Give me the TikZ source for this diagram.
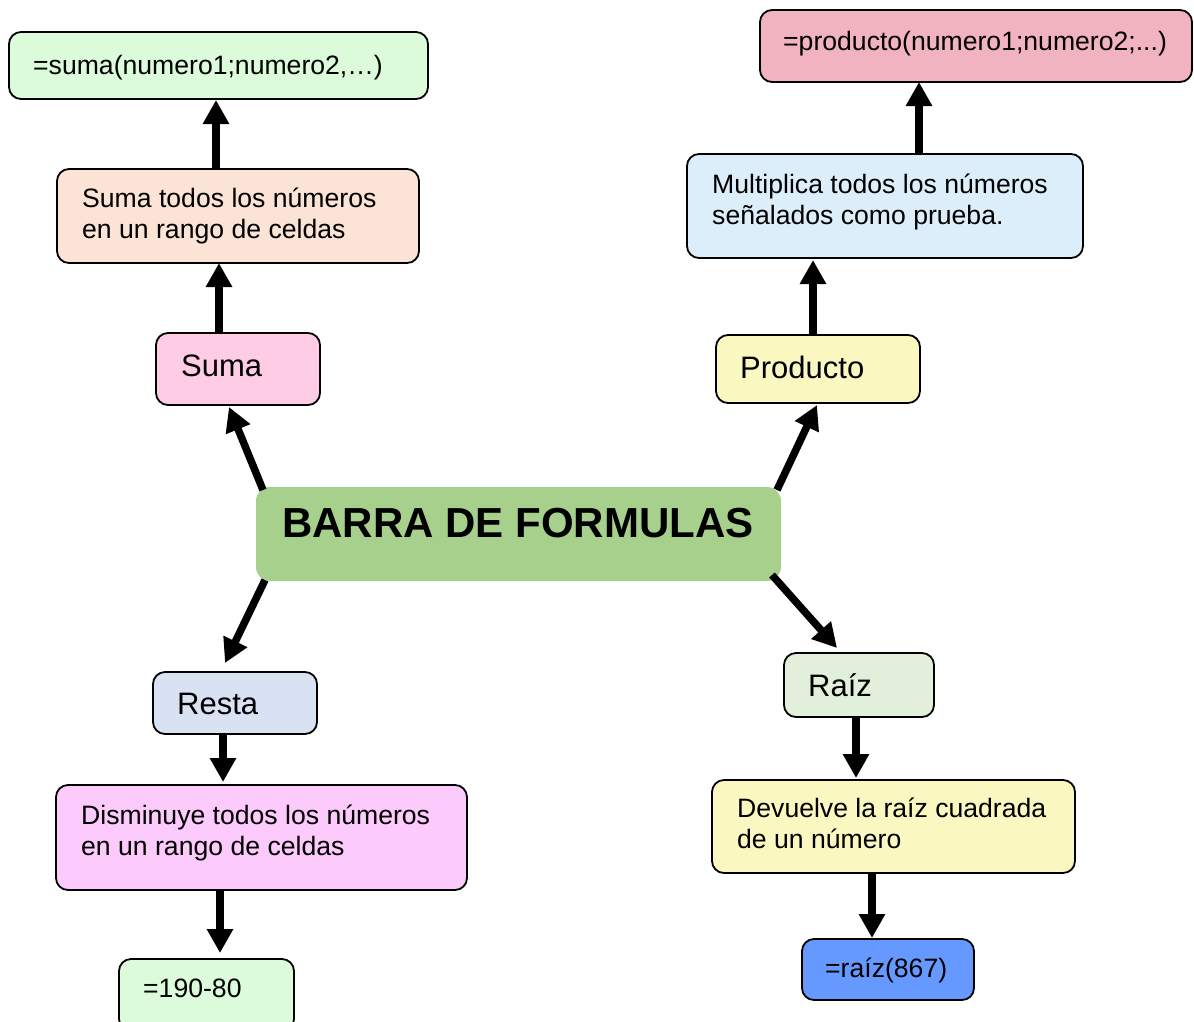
\documentclass[tikz,border=0pt]{standalone}
\usepackage{fontspec}
\setmainfont{Liberation Sans}
\usetikzlibrary{arrows.meta}
\definecolor{cSumF}{HTML}{DBFBDB}
\definecolor{cSumD}{HTML}{FBE3D6}
\definecolor{cSuma}{HTML}{FFCCE5}
\definecolor{cCent}{HTML}{A8D08D}
\definecolor{cResta}{HTML}{D9E2F3}
\definecolor{cDism}{HTML}{FCCBFC}
\definecolor{cProdF}{HTML}{F2B3C1}
\definecolor{cProdD}{HTML}{DDEEFB}
\definecolor{cProd}{HTML}{FAF8C0}
\definecolor{cRaiz}{HTML}{E2EFDA}
\definecolor{cRaizF}{HTML}{6699FF}
\begin{document}
\begin{tikzpicture}[x=1pt,y=-1pt,
  box/.style={draw=black, line width=1.8pt, rounded corners=12pt, anchor=north west, inner sep=0pt, outer sep=0pt},
  txt/.style={anchor=base west, inner sep=0pt, align=left, font=\fontsize{26.6}{30.5}\selectfont},
  lbl/.style={anchor=base west, inner sep=0pt, font=\fontsize{31}{36}\selectfont},
  arr/.style={line width=7.5pt, -{Triangle[width=25pt,length=24pt]}}]
\useasboundingbox (0,0) rectangle (1194,1021);
% boxes
\node[box, fill=cSumF, minimum width=419pt, minimum height=67pt] (sf) at (9,32) {};
\node[box, fill=cSumD, minimum width=362pt, minimum height=94pt] (sd) at (57,169) {};
\node[box, fill=cSuma, minimum width=164pt, minimum height=72pt] (su) at (156,333) {};
\node[box, draw=none, fill=cCent, rounded corners=14pt, minimum width=525pt, minimum height=94pt] (ce) at (256,487) {};
\node[box, fill=cResta, minimum width=164pt, minimum height=62pt] (re) at (153,672) {};
\node[box, fill=cDism, minimum width=411pt, minimum height=105pt] (di) at (56,785) {};
\node[box, fill=cSumF, minimum width=175pt, minimum height=72pt] (rf) at (119,959) {};
\node[box, fill=cProdF, minimum width=432pt, minimum height=72pt] (pf) at (760,10) {};
\node[box, fill=cProdD, minimum width=396pt, minimum height=104pt] (pd) at (687,154) {};
\node[box, fill=cProd, minimum width=204pt, minimum height=68pt] (pr) at (716,335) {};
\node[box, fill=cRaiz, minimum width=150pt, minimum height=64pt] (ra) at (784,653) {};
\node[box, fill=cProd, minimum width=363pt, minimum height=93pt] (de) at (712,780) {};
\node[box, fill=cRaizF, minimum width=172pt, minimum height=61pt] (qf) at (802,939) {};
% texts
\node[txt] (tsf) at (33,74) {=suma(numero1;numero2,…)};
\node[txt] (tsd) at (82,238) {Suma todos los números\\en un rango de celdas};
\node[lbl] (tsu) at (181,376) {Suma};
\node[anchor=base west, inner sep=0pt, font=\fontsize{42}{48}\selectfont\bfseries] (tce) at (282,537) {BARRA DE FORMULAS};
\node[lbl] (tre) at (177,714) {Resta};
\node[txt] (tdi) at (81,855) {Disminuye todos los números\\en un rango de celdas};
\node[txt] (trf) at (143,997) {=190-80};
\node[txt] (tpf) at (783,50) {=producto(numero1;numero2;...)};
\node[txt] (tpd) at (712,224) {Multiplica todos los números\\señalados como prueba.};
\node[lbl] (tpr) at (740,378) {Producto};
\node[lbl] (tra) at (808,696) {Raíz};
\node[txt] (tde) at (737,848) {Devuelve la raíz cuadrada\\de un número};
\node[txt] (tqf) at (825,977) {=raíz(867)};
% arrows
\draw[arr] ([xshift=7pt,yshift=-3pt]ce.north west) -- ([xshift=-9pt,yshift=-2pt]su.south);
\draw[arr] ([xshift=-19pt]su.north) -- ([xshift=-19pt]sd.south);
\draw[arr] ([xshift=-22pt]sd.north) -- ([xshift=-2.5pt,yshift=-1pt]sf.south);
\draw[arr] ([xshift=-4pt,yshift=-3pt]ce.north east) -- ([xshift=-1pt,yshift=-2pt]pr.south);
\draw[arr] ([xshift=-5pt]pr.north) -- ([xshift=-72pt,yshift=-2pt]pd.south);
\draw[arr] ([xshift=34pt]pd.north) -- ([xshift=-57pt]pf.south);
\draw[arr] ([xshift=9pt,yshift=1pt]ce.south west) -- ([xshift=-10pt,yshift=9pt]re.north);
\draw[arr] ([xshift=-12pt]re.south) -- ([xshift=-38.5pt,yshift=3pt]di.north);
\draw[arr] ([xshift=-41.5pt]di.south) -- ([xshift=13.5pt,yshift=6pt]rf.north);
\draw[arr] ([xshift=-9pt,yshift=6pt]ce.south east) -- ([xshift=-22pt,yshift=5pt]ra.north);
\draw[arr] ([xshift=-3pt]ra.south) -- ([xshift=-37.5pt,yshift=2pt]de.north);
\draw[arr] ([xshift=-21.5pt]de.south) -- ([xshift=-16pt,yshift=1pt]qf.north);
\end{tikzpicture}
\end{document}
